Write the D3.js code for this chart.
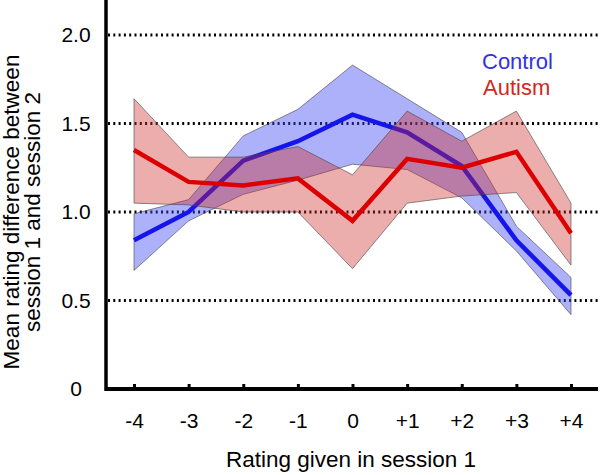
<!DOCTYPE html>
<html>
<head>
<meta charset="utf-8">
<script src="https://cdn.jsdelivr.net/npm/d3@7"></script>
<style>
  body { margin: 0; background: #fff; }
  text { font-family: "Liberation Sans", Arial, sans-serif; }
</style>
</head>
<body>
<div id="chart"></div>
<script>
var ratings = ["-4", "-3", "-2", "-1", "0", "+1", "+2", "+3", "+4"];
var controlMean  = [0.84, 1.00, 1.29, 1.40, 1.55, 1.45, 1.26, 0.84, 0.53];
var controlUpper = [0.99, 1.07, 1.43, 1.58, 1.83, 1.64, 1.45, 0.92, 0.63];
var controlLower = [0.67, 0.95, 1.10, 1.18, 1.27, 1.24, 1.08, 0.78, 0.42];
var autismMean   = [1.35, 1.17, 1.15, 1.19, 0.95, 1.30, 1.25, 1.34, 0.88];
var autismUpper  = [1.64, 1.31, 1.31, 1.37, 1.21, 1.57, 1.40, 1.57, 1.05];
var autismLower  = [1.05, 1.04, 1.00, 1.00, 0.68, 1.05, 1.09, 1.11, 0.70];
var yTicks = [0, 0.5, 1.0, 1.5, 2.0];

var width = 600;
var height = 475;
var axisX = 106;
var axisY = 389;

var svg = d3.select('#chart')
  .append('svg')
  .attr('width', width)
  .attr('height', height);

var x = d3.scalePoint()
  .domain(ratings)
  .range([134, 571]);

var y = d3.scaleLinear()
  .domain([0, 2])
  .range([axisY, 35]);

// dotted grid lines
svg.selectAll('.grid')
  .data(yTicks.slice(1))
  .enter()
  .append('line')
  .attr('class', 'grid')
  .attr('x1', axisX + 2)
  .attr('x2', width)
  .attr('y1', function(d) { return y(d); })
  .attr('y2', function(d) { return y(d); })
  .attr('stroke', '#000')
  .attr('stroke-width', 3)
  .attr('stroke-dasharray', '2,3.3');

function band(upper, lower) {
  return d3.area()
    .x(function(d, i) { return x(ratings[i]); })
    .y0(function(d, i) { return y(lower[i]); })
    .y1(function(d, i) { return y(upper[i]); })(ratings);
}

function line(values) {
  return d3.line()
    .x(function(d, i) { return x(ratings[i]); })
    .y(function(d) { return y(d); })(values);
}

svg.append('path')
  .attr('d', band(controlUpper, controlLower))
  .attr('fill', 'rgb(60,70,240)')
  .attr('fill-opacity', 0.42)
  .attr('stroke', '#444')
  .attr('stroke-width', 0.6);

svg.append('path')
  .attr('d', line(controlMean))
  .attr('fill', 'none')
  .attr('stroke', 'rgb(20,20,235)')
  .attr('stroke-width', 4.5);

svg.append('path')
  .attr('d', band(autismUpper, autismLower))
  .attr('fill', 'rgb(205,40,40)')
  .attr('fill-opacity', 0.38)
  .attr('stroke', '#444')
  .attr('stroke-width', 0.6);

svg.append('path')
  .attr('d', line(autismMean))
  .attr('fill', 'none')
  .attr('stroke', 'rgb(220,0,0)')
  .attr('stroke-width', 4.5);

// axes
var xAxis = svg.append('g')
  .attr('transform', 'translate(0,' + axisY + ')')
  .call(d3.axisBottom(x).tickSize(-5).tickPadding(24));
xAxis.select('.domain').remove();
xAxis.selectAll('.tick line').attr('stroke-width', 3);
xAxis.selectAll('text')
  .attr('font-size', 21)
  .attr('fill', '#000');

svg.append('line')
  .attr('x1', axisX)
  .attr('x2', 598)
  .attr('y1', axisY)
  .attr('y2', axisY)
  .attr('stroke', '#000')
  .attr('stroke-width', 4);

svg.append('line')
  .attr('x1', axisX)
  .attr('x2', axisX)
  .attr('y1', 0)
  .attr('y2', axisY + 2)
  .attr('stroke', '#000')
  .attr('stroke-width', 3.5);

svg.selectAll('.ylab')
  .data(yTicks)
  .enter()
  .append('text')
  .attr('class', 'ylab')
  .attr('x', 76)
  .attr('y', function(d) { return y(d) + 7; })
  .attr('text-anchor', 'middle')
  .attr('font-size', 21)
  .text(function(d) { return d === 0 ? '0' : d.toFixed(1); });

// titles
svg.append('text')
  .attr('x', 351)
  .attr('y', 467)
  .attr('text-anchor', 'middle')
  .attr('font-size', 22.5)
  .text('Rating given in session 1');

var yTitle = svg.append('text')
  .attr('transform', 'translate(18.5,212) rotate(-90)')
  .attr('text-anchor', 'middle')
  .attr('font-size', 22.5);
yTitle.append('tspan')
  .attr('x', 0)
  .attr('y', 0)
  .text('Mean rating difference between');
yTitle.append('tspan')
  .attr('x', 0)
  .attr('y', 21.5)
  .text('session 1 and session 2');

// legend
svg.append('text')
  .attr('x', 482)
  .attr('y', 69)
  .attr('font-size', 22)
  .attr('fill', 'rgb(50,50,225)')
  .text('Control');

svg.append('text')
  .attr('x', 483)
  .attr('y', 95)
  .attr('font-size', 22)
  .attr('fill', 'rgb(210,40,30)')
  .text('Autism');
</script>
</body>
</html>
